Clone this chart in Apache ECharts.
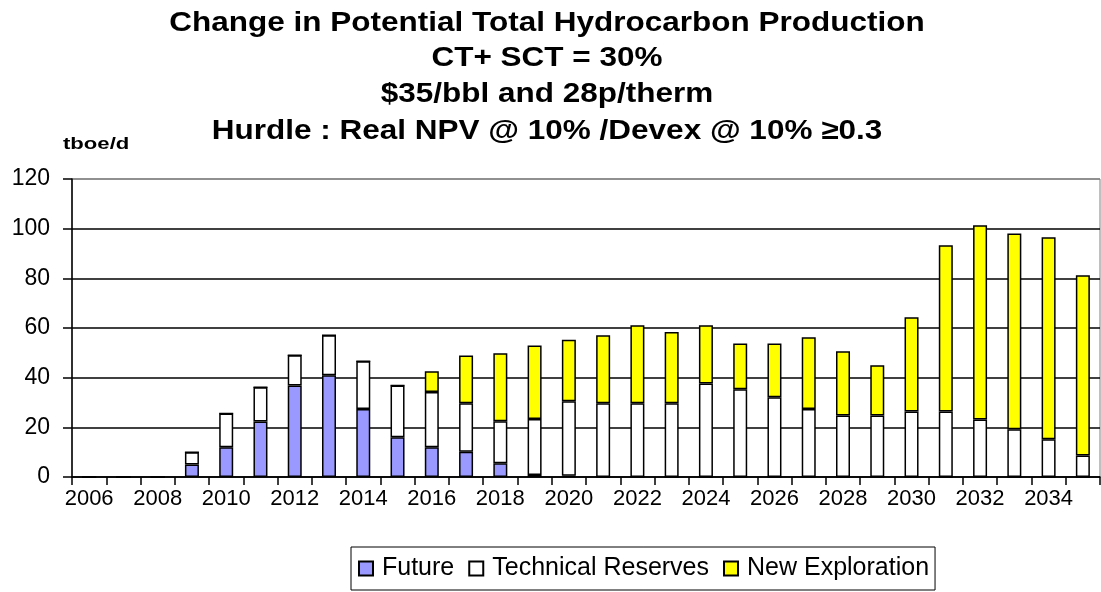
<!DOCTYPE html>
<html><head><meta charset="utf-8">
<script src="https://cdn.jsdelivr.net/npm/echarts@6/dist/echarts.min.js"></script>
<style>html,body{margin:0;padding:0;background:#fff}#c{width:1101px;height:592px}</style>
</head><body><div id="c"></div>
<script>
const years = ['2006','2007','2008','2009','2010','2011','2012','2013','2014','2015','2016','2017','2018','2019','2020','2021','2022','2023','2024','2025','2026','2027','2028','2029','2030','2031','2032','2033','2034','2035'];
const future = [0,0,0,5,12,22.3,36.8,41,27.4,16,12,10.2,5.5,0.8,0.5,0,0,0,0,0,0,0,0,0,0,0,0,0,0,0];
const technical = [0,0,0,5,13.6,13.8,12.2,16.1,19.2,20.8,22.2,19.5,16.9,22.6,30,29.7,29.7,29.7,37.7,35.3,32.1,27.4,24.8,24.8,26.4,26.4,23.2,19.2,15.2,8.7];
const newExploration = [0,0,0,0,0,0,0,0,0,0,8.4,19.2,27.4,29.6,24.8,27.4,31.4,28.7,23.4,18.5,21.7,28.9,25.8,20.2,37.9,66.9,78.2,78.9,81.3,72.5];
const titleLines = ['Change in Potential Total Hydrocarbon Production','CT+ SCT = 30%','$35/bbl and 28p/therm','Hurdle : Real NPV @ 10% /Devex @ 10% \u22650.3'];
const unitLabel = 'tboe/d';

const chart = echarts.init(document.getElementById('c'));
const F = 'Liberation Sans, Arial, sans-serif';
const bw = 14;
const border = {borderColor:'#000', borderWidth:1.5};
const titleY = [23, 58, 94, 131];
const graphics = titleLines.map((t, i) => ({
  type:'text', x:547, y:titleY[i], scaleX:1.05, scaleY:0.92,
  style:{text:t, font:'bold 30px ' + F, fill:'#000', textAlign:'center', textVerticalAlign:'middle'}
}));
graphics.push({
  type:'text', x:63, y:144, scaleX:1.3,
  style:{text:unitLabel, font:'bold 17px ' + F, fill:'#000', textAlign:'left', textVerticalAlign:'middle'}
});
chart.setOption({
  animation:false,
  graphic: graphics,
  legend:{
    left:351, top:547, width:589, height:43,
    orient:'horizontal', padding:[9,6,9,7],
    borderColor:'#000', borderWidth:1,
    itemWidth:14, itemHeight:14, itemGap:14,
    icon:'rect',
    textStyle:{fontFamily:F, fontSize:25, color:'#000', padding:[0,0,0,4]},
    data:['Future','Technical Reserves','New Exploration']
  },
  grid:{left:72, right:1, top:179, bottom:115, show:true, borderColor:'#808080', borderWidth:1},
  xAxis:{
    type:'category', data:years,
    axisLine:{lineStyle:{color:'#000', width:1.5}},
    axisTick:{show:true, interval:0, length:8, lineStyle:{color:'#000', width:1.5}},
    axisLabel:{interval:1, fontFamily:F, fontSize:22, color:'#000', margin:11}
  },
  yAxis:{
    type:'value', min:0, max:120, interval:20,
    axisLine:{show:true, lineStyle:{color:'#000', width:1.5}},
    axisTick:{show:true, length:9, lineStyle:{color:'#000', width:1.5}},
    splitLine:{show:true, lineStyle:{color:['#000','#000','#000','#000','#000','#000','#808080'], width:1.5}},
    axisLabel:{fontFamily:F, fontSize:23, color:'#000', margin:22}
  },
  series:[
    {name:'Future', type:'bar', stack:'s', data:future, barWidth:bw, itemStyle:Object.assign({color:'#9999FF'},border)},
    {name:'Technical Reserves', type:'bar', stack:'s', data:technical, barWidth:bw, itemStyle:Object.assign({color:'#FFFFFF'},border)},
    {name:'New Exploration', type:'bar', stack:'s', data:newExploration, barWidth:bw, itemStyle:Object.assign({color:'#FFFF00'},border)}
  ]
});
</script></body></html>
